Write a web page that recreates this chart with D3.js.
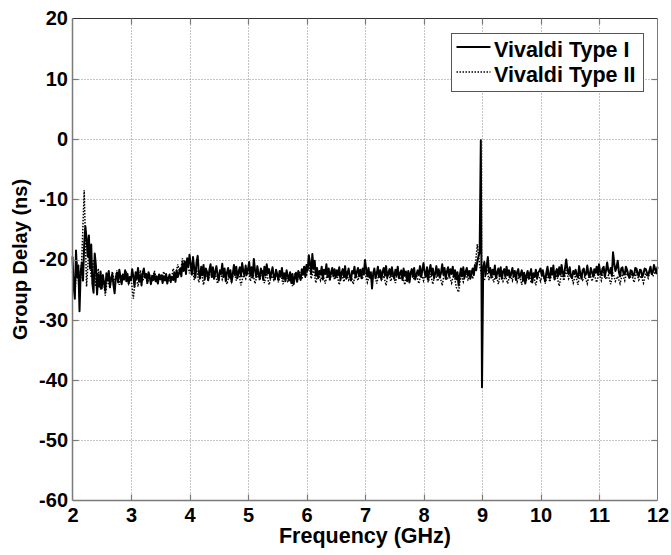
<!DOCTYPE html>
<html>
<head>
<meta charset="utf-8">
<script src="https://cdn.jsdelivr.net/npm/d3@7"></script>
<style>
  body { margin: 0; background: #fff; }
  text { font-family: "Liberation Sans", Arial, sans-serif; font-weight: bold; }
</style>
</head>
<body>
<svg id="chart" width="671" height="555"></svg>
<script>
// both traces start at 2 GHz; Type I sampled every 0.02 GHz, Type II every 0.04 GHz
const F_START = 2;
const STEP_I = 0.02;
const STEP_II = 0.04;

// Vivaldi Type I (solid) group delay, ns  (rows of 0.5 GHz)
const typeI = [
  -19.5, -24.5, -26.5, -18.5, -23, -21, -28.6, -22, -20.5, -23.5, -17.5, -14.5, -16.5, -19.5, -16, -21.5, -17.5, -24, -25.5, -19, -21, -25.8, -22.5, -24.5, -22,
  -24.8, -22.6, -23.9, -25.2, -22.3, -23.5, -21.9, -24.6, -23.1, -22.4, -24.2, -25.6, -23, -22.2, -23.8, -21.7, -22.9, -24.1, -22.5, -23.3, -21.8, -23.6, -22.4, -24, -22.9,
  -23.4, -21.6, -22.8, -24.5, -22.1, -23.2, -21.4, -23.7, -22.6, -24.3, -22.2, -21.5, -23, -22.4, -23.9, -22.1, -22.9, -24.1, -22.7, -23.4, -22.3, -23.6, -22.8, -24, -22.5,
  -23.3, -22.6, -23.9, -22.8, -23.5, -22.4, -24, -23.1, -22.5, -23.6, -22.9, -23.4, -22.2, -23.7, -21.8, -22.9, -22.3, -21.5, -22.8, -20.6, -21.9, -20.3, -22.4, -19.8, -21.2,
  -19.2, -20.8, -22.5, -19.6, -21.4, -23, -20.5, -19.4, -22.3, -23.1, -21.2, -22.6, -20.9, -23.3, -21.5, -22.1, -23.4, -21.7, -20.8, -22.9, -21.3, -23.2, -22, -21.1, -22.7,
  -23.5, -21.8, -22.4, -20.7, -22.9, -21.5, -23.6, -22.2, -21.4, -23, -21.8, -23.7, -22.4, -20.9, -22.6, -21.2, -23.1, -22, -21.3, -22.8, -20.6, -21.9, -22.7, -21, -22.5,
  -21.6, -20.4, -22.7, -21.3, -23, -19.9, -21.8, -22.9, -21.1, -22.4, -23.2, -21.5, -22, -23.4, -21.2, -22.6, -20.8, -22.3, -21.6, -23.1, -22.2, -21.3, -22.8, -23.3, -21.7,
  -22.5, -23.4, -21.9, -22.8, -21.4, -23.2, -22.3, -23.6, -21.8, -22.7, -23.5, -22.1, -23.9, -22.4, -24.1, -23, -22.2, -23.7, -21.9, -22.8, -23.4, -21.6, -22.5, -21.2, -22.9,
  -20.9, -21.8, -19.3, -20.6, -22.4, -19.1, -21.5, -20.2, -22.7, -21.4, -23.1, -21.9, -22.5, -21.2, -23.3, -21.7, -22.4, -20.8, -22.9, -21.5, -23.2, -22.1, -21.4, -22.8, -21.6,
  -23, -21.8, -22.6, -21.3, -23.4, -22.2, -21.6, -22.9, -21.1, -23.2, -22.4, -21.5, -22.7, -23.5, -21.9, -22.3, -21.2, -23, -22.1, -21.4, -22.8, -21.7, -23.1, -21.5, -22.4,
  -20.1, -21.6, -22.8, -21.4, -23, -22.1, -24.8, -22.3, -21.5, -23.1, -22.4, -21.2, -22.9, -21.8, -23.3, -22, -21.4, -22.7, -21.1, -23, -22.2, -21.6, -22.8, -21.3, -22.5,
  -23.2, -21.7, -22.6, -21.2, -23.1, -22.3, -21.8, -23.4, -21.5, -22.7, -22, -23.6, -21.9, -23.8, -22.2, -21.6, -22.9, -21.4, -23.3, -22.5, -21.8, -22.6, -21.1, -22.9, -21.7,
  -20.6, -22.2, -22.9, -21.3, -23.4, -21.8, -20.9, -22.6, -21.5, -23.1, -22.3, -21.1, -22.7, -21.6, -23, -22.2, -20.8, -22.5, -21.4, -23.2, -22, -21.3, -22.8, -21.6, -22.4,
  -21.2, -22.9, -21.8, -23.3, -22.1, -24.3, -22.6, -21.5, -22.8, -21.3, -23.1, -22, -21.4, -22.7, -21.9, -23.2, -22.3, -21.5, -22.6, -20.9, -21.8, -20.3, -19.5, -18.8, -0.2,
  -41.2, -21.5, -20.4, -22.6, -21.1, -19.6, -22.2, -21.4, -23, -21.7, -22.5, -21, -23.1, -22.2, -21.5, -22.8, -21.3, -23.2, -22, -21.6, -22.9, -21.2, -22.6, -21.8, -23,
  -22.3, -21.4, -22.8, -21.9, -23.4, -22.1, -21.6, -23, -22.5, -21.8, -23.5, -22.2, -24, -22.6, -21.9, -23.2, -22.4, -21.6, -23.8, -22.3, -22.9, -21.7, -23.1, -22.2, -21.9,
  -21.5, -22.6, -21.8, -22.9, -23.6, -22.2, -21.2, -22.7, -23.1, -21.4, -22.5, -21, -23.3, -22.1, -21.6, -22.8, -21.3, -22.5, -20.9, -22.2, -22.8, -21.4, -20, -21.7, -22.4,
  -21.3, -22.8, -23.1, -21.9, -22.4, -21.7, -22.6, -23, -21.1, -22.3, -23.2, -21.8, -21.5, -22.7, -22.4, -21, -22.5, -22.9, -21.4, -22.1, -22.8, -21.6, -22.2, -21.2, -22.5,
  -20.8, -22.1, -22.6, -21.5, -21.2, -22.9, -21.8, -20.5, -21.9, -22.3, -21.4, -22.7, -18.8, -20.6, -21.9, -21.3, -20.2, -22.1, -22.8, -21.5, -21.3, -22.4, -22.5, -21.2, -21.7,
  -22.6, -23, -21.8, -21.9, -22.7, -22.6, -21.4, -21.5, -22.3, -22.8, -21.7, -21.8, -22.9, -22.4, -21.5, -21.6, -22.2, -22.7, -21.9, -21.2, -22.4, -22.1, -20.9, -21.6, -22.3,
  -21.2
];

// Vivaldi Type II (dotted) group delay, ns  (rows of 1 GHz)
const typeII = [
  -22, -25.5, -20.5, -26, -19.5, -8.5, -24.5, -18.5, -23, -20, -24.5, -21.5, -25, -22.5, -26, -23, -24.8, -22, -23.8, -21.8, -24.2, -22.5, -23.5, -22, -24,
  -23, -26.5, -22.5, -24.5, -21.8, -23.6, -22.2, -24, -22.6, -23.4, -21.9, -23.8, -22.4, -23.3, -22, -23.6, -22.8, -23.9, -21.5, -22.7, -20.8, -22.5, -19.8, -21.6, -20.2,
  -22.3, -20.6, -23.4, -21.5, -23.8, -21.9, -24.2, -22.1, -23.6, -21.7, -23.1, -22.4, -24, -21.8, -23.3, -22.2, -24.1, -22.5, -23.7, -21.9, -23.5, -22, -24.3, -22.6, -23.2,
  -21.5, -23.6, -22.1, -24, -22.4, -23.5, -21.8, -23.9, -22.3, -24.2, -22.7, -23.4, -21.9, -23.8, -22.5, -24.1, -22.2, -23.6, -22.8, -24.4, -22.3, -23.7, -22, -23.3, -21.6,
  -22.8, -20.5, -23.2, -21.6, -23.9, -22.1, -23.5, -22.4, -24, -22.2, -23.6, -21.8, -23.3, -22.5, -24.2, -22.3, -23.7, -22, -23.4, -22.6, -24.1, -22.2, -23.5, -21.9, -23,
  -22.2, -23.8, -22.5, -23.6, -21.9, -24, -22.3, -23.4, -22.7, -24.3, -22.1, -23.6, -22.4, -23.9, -22, -23.3, -22.6, -24.2, -22.3, -23.7, -21.8, -23.4, -22.5, -24, -22.2,
  -23.5, -21.9, -23.8, -22.4, -24.1, -22.2, -23.6, -22.7, -24.3, -22, -23.4, -22.6, -23.9, -22.3, -24.6, -25.4, -22.5, -23.7, -22.1, -23.5, -21.8, -23.2, -21.5, -17.5, -21,
  -22.8, -23.5, -21.6, -23.4, -22, -23.8, -22.4, -24.1, -22.2, -23.6, -22.7, -24, -22.3, -23.5, -21.9, -23.7, -22.5, -24.2, -22.8, -23.4, -22.1, -23.9, -22.6, -24.3, -22.4,
  -23.6, -22.2, -24, -22.5, -23.7, -22, -23.3, -22.7, -24.4, -22.3, -23.5, -21.8, -23.2, -22.4, -23.9, -22.6, -24.2, -22.1, -23.4, -22.8, -24, -22.2, -23.6, -22.5, -23.8,
  -22.3, -23.5, -21.9, -23.3, -22.6, -24.1, -22.2, -23.6, -22.8, -24, -22.4, -23.5, -21.8, -23.2, -22.5, -23.8, -22.1, -23.4, -22.7, -23.9, -22.3, -23.1, -21.6, -22.8, -22,
  -22.5
];

const xTicks = [2, 3, 4, 5, 6, 7, 8, 9, 10, 11, 12];
const yTicks = [-60, -50, -40, -30, -20, -10, 0, 10, 20];
const seriesNames = ["Vivaldi Type I", "Vivaldi Type II"];

const svg = d3.select("#chart");
const pLeft = 72.5, pRight = 657.5, pTop = 18.5, pBottom = 500.5;

const x = d3.scaleLinear().domain([2, 12]).range([pLeft, pRight]);
const y = d3.scaleLinear().domain([-60, 20]).range([pBottom, pTop]);

// region grid
const grid = svg.append("g");
grid.selectAll(".vg")
  .data(xTicks.slice(1, -1))
  .join("line")
  .attr("x1", d => Math.round(x(d)) + 0.5).attr("x2", d => Math.round(x(d)) + 0.5)
  .attr("y1", pTop).attr("y2", pBottom)
  .attr("stroke", "#8a8a8a").attr("stroke-width", 1).attr("stroke-dasharray", "1,2");
grid.selectAll(".hg")
  .data(yTicks.slice(1, -1))
  .join("line")
  .attr("y1", d => Math.round(y(d)) + 0.5).attr("y2", d => Math.round(y(d)) + 0.5)
  .attr("x1", pLeft).attr("x2", pRight)
  .attr("stroke", "#8a8a8a").attr("stroke-width", 1).attr("stroke-dasharray", "1,2");
// endregion grid

// region data lines
const lineI = d3.line()
  .x((d, i) => x(F_START + i * STEP_I))
  .y(d => y(d));
const lineII = d3.line()
  .x((d, i) => x(F_START + i * STEP_II))
  .y(d => y(d));

const plot = svg.append("g");
plot.append("path")
  .datum(typeI)
  .attr("d", lineI)
  .attr("fill", "none").attr("stroke", "#000").attr("stroke-width", 2)
  .attr("stroke-linejoin", "round");
plot.append("path")
  .datum(typeII)
  .attr("d", lineII)
  .attr("fill", "none").attr("stroke", "#000").attr("stroke-width", 1.5)
  .attr("stroke-dasharray", "1.5,1.5");
// endregion data lines

// region axes box + ticks (inward, MATLAB style)
const axisColor = "#7a7a7a";
svg.append("line").attr("x1", pLeft).attr("x2", pRight).attr("y1", pTop).attr("y2", pTop)
  .attr("stroke", "#333").attr("stroke-width", 1);
svg.append("line").attr("x1", pLeft).attr("x2", pRight).attr("y1", pBottom).attr("y2", pBottom)
  .attr("stroke", axisColor).attr("stroke-width", 1.5);
svg.append("line").attr("x1", pLeft).attr("x2", pLeft).attr("y1", pTop).attr("y2", pBottom)
  .attr("stroke", axisColor).attr("stroke-width", 1.5);
svg.append("line").attr("x1", pRight).attr("x2", pRight).attr("y1", pTop).attr("y2", pBottom)
  .attr("stroke", axisColor).attr("stroke-width", 1);

const tickLen = 6;
const ticks = svg.append("g").attr("stroke", axisColor).attr("stroke-width", 1.2);
xTicks.slice(1, -1).forEach(d => {
  const px = Math.round(x(d)) + 0.5;
  ticks.append("line").attr("x1", px).attr("x2", px).attr("y1", pBottom).attr("y2", pBottom - tickLen);
  ticks.append("line").attr("x1", px).attr("x2", px).attr("y1", pTop).attr("y2", pTop + tickLen);
});
yTicks.slice(1, -1).forEach(d => {
  const py = Math.round(y(d)) + 0.5;
  ticks.append("line").attr("x1", pLeft).attr("x2", pLeft + tickLen).attr("y1", py).attr("y2", py);
  ticks.append("line").attr("x1", pRight).attr("x2", pRight - tickLen).attr("y1", py).attr("y2", py);
});

// tick labels through d3 axes (tick marks hidden); plain hyphen for negatives
svg.append("g")
  .attr("transform", `translate(0, ${pBottom})`)
  .call(d3.axisBottom(x).tickValues(xTicks).tickSize(0).tickPadding(7).tickFormat(d => String(d)))
  .call(g => g.select(".domain").remove())
  .call(g => g.selectAll("text").attr("font-size", 20).attr("fill", "#000")
    .attr("font-family", "'Liberation Sans', Arial, sans-serif").attr("font-weight", "bold"));

svg.append("g")
  .attr("transform", `translate(${pLeft}, 0)`)
  .call(d3.axisLeft(y).tickValues(yTicks).tickSize(0).tickPadding(4.5).tickFormat(d => String(d)))
  .call(g => g.select(".domain").remove())
  .call(g => g.selectAll("text").attr("font-size", 20).attr("fill", "#000")
    .attr("font-family", "'Liberation Sans', Arial, sans-serif").attr("font-weight", "bold"));
// endregion axes

// axis titles
svg.append("text")
  .attr("x", (pLeft + pRight) / 2).attr("y", 543)
  .attr("text-anchor", "middle").attr("font-size", 21.5).attr("fill", "#000")
  .text("Frequency (GHz)");
svg.append("text")
  .attr("transform", `translate(27, ${(pTop + pBottom) / 2}) rotate(-90)`)
  .attr("text-anchor", "middle").attr("font-size", 20).attr("fill", "#000")
  .text("Group Delay (ns)");

// region legend
const legend = svg.append("g").attr("transform", "translate(451.5, 33.5)");
legend.append("rect")
  .attr("width", 192).attr("height", 58)
  .attr("fill", "#fff").attr("stroke", "#555").attr("stroke-width", 1);
seriesNames.forEach((name, i) => {
  const ly = 13.5 + i * 25;
  legend.append("line")
    .attr("x1", 5).attr("x2", 39).attr("y1", ly).attr("y2", ly)
    .attr("stroke", "#000")
    .attr("stroke-width", i === 0 ? 2 : 1.5)
    .attr("stroke-dasharray", i === 0 ? null : "1.5,1.5");
  legend.append("text")
    .attr("x", 42.5).attr("y", ly + 10)
    .attr("font-size", 21.5).attr("fill", "#000")
    .text(name);
});
// endregion legend
</script>
</body>
</html>
